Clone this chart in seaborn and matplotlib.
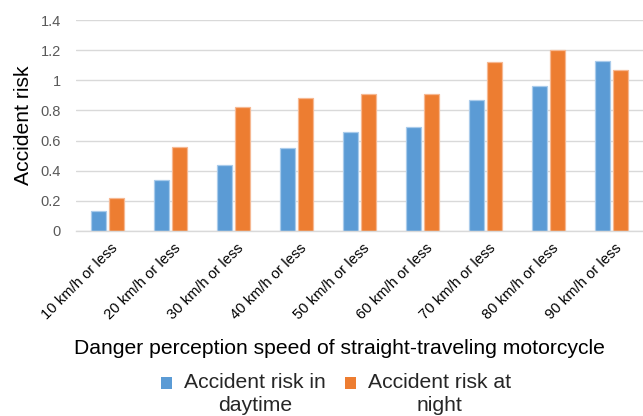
import matplotlib
matplotlib.use("Agg")
import matplotlib.pyplot as plt
import matplotlib.transforms as mtransforms
from matplotlib.patches import Patch, Rectangle
from matplotlib.legend_handler import HandlerPatch
import pandas as pd
import seaborn as sns

# Accident risk by danger perception speed
categories = ["10 km/h or less", "20 km/h or less", "30 km/h or less",
              "40 km/h or less", "50 km/h or less", "60 km/h or less",
              "70 km/h or less", "80 km/h or less", "90 km/h or less"]
risk_daytime = [0.13, 0.34, 0.44, 0.55, 0.66, 0.69, 0.87, 0.96, 1.13]
risk_night = [0.22, 0.56, 0.82, 0.88, 0.91, 0.91, 1.12, 1.20, 1.07]
series_names = ["Accident risk in\ndaytime", "Accident risk at\nnight"]
y_ticks = [0, 0.2, 0.4, 0.6, 0.8, 1.0, 1.2, 1.4]
y_tick_labels = ["0", "0.2", "0.4", "0.6", "0.8", "1", "1.2", "1.4"]

colors = ["#5B9BD5", "#ED7D31"]
edge_colors = ["#A9CBEB", "#F6B892"]

LABEL_SIZE = 15.2
LEGEND_LINESPACING = 1.3

df = pd.DataFrame({
    "speed": categories * 2,
    "risk": risk_daytime + risk_night,
    "series": [series_names[0]] * len(categories) + [series_names[1]] * len(categories),
})

sns.set_theme(style="white")
plt.rcParams["font.family"] = ["Liberation Sans", "DejaVu Sans"]

fig = plt.figure(figsize=(6.43, 4.16), dpi=100)
ax = fig.add_axes([76 / 643, 1 - 231 / 416, 567 / 643, 211 / 416])

sns.barplot(data=df, x="speed", y="risk", hue="series", order=categories,
            hue_order=series_names, palette=colors, saturation=1,
            width=0.575, gap=0.22, linewidth=0.9, legend=False, ax=ax)

# lighter outlines around each bar
for container, ec in zip(ax.containers, edge_colors):
    for bar in container:
        bar.set_edgecolor(ec)

ax.set_ylim(0, 1.4)
ax.set_xlim(-0.5, len(categories) - 0.5)
ax.set_yticks(y_ticks)
ax.set_yticklabels(y_tick_labels, color="#595959", fontsize=10.5)
ax.tick_params(axis="y", length=0, pad=11)
ax.tick_params(axis="x", length=0, pad=7)
ax.yaxis.grid(True, color="#D9D9D9", linewidth=1.0)
ax.set_axisbelow(True)
for s in ["top", "right", "left"]:
    ax.spines[s].set_visible(False)
ax.spines["bottom"].set_color("#D9D9D9")
ax.spines["bottom"].set_linewidth(1.0)

offset = mtransforms.ScaledTranslation(3 / 100, 0, fig.dpi_scale_trans)
for lbl in ax.get_xticklabels():
    lbl.set_rotation(45)
    lbl.set_ha("right")
    lbl.set_va("top")
    lbl.set_rotation_mode("anchor")
    lbl.set_fontsize(10.6)
    lbl.set_color("black")
    lbl.set_transform(lbl.get_transform() + offset)

ax.set_ylabel("Accident risk", fontsize=LABEL_SIZE, color="black")
ax.yaxis.set_label_coords(-0.076, 0.5)
ax.set_xlabel("Danger perception speed of straight-traveling motorcycle",
              fontsize=LABEL_SIZE, color="black")
ax.xaxis.set_label_coords(0.4638, -0.51)


class FirstLineSquare(HandlerPatch):
    """Square legend key aligned with the first line of a two-line label."""

    def create_artists(self, legend, orig_handle, xdescent, ydescent,
                       width, height, fontsize, trans):
        size = 0.55 * fontsize
        lift = 0.5 * LEGEND_LINESPACING * 0.81 * fontsize
        sq = Rectangle((-xdescent + (width - size) / 2,
                        -ydescent + (height - size) / 2 + lift),
                       size, size, facecolor=orig_handle.get_facecolor(),
                       edgecolor="none", transform=trans)
        return [sq]


handles = [Patch(facecolor=c, edgecolor="none") for c in colors]
leg = fig.legend(handles, series_names, loc="upper center",
                 bbox_to_anchor=(336 / 643, 1 - 362 / 416), ncol=2,
                 frameon=False, fontsize=LABEL_SIZE, borderpad=0,
                 handlelength=0.55, handleheight=0.55, handletextpad=0.55,
                 columnspacing=0.9,
                 handler_map={Patch: FirstLineSquare()})
for t in leg.get_texts():
    t.set_multialignment("center")
    t.set_linespacing(LEGEND_LINESPACING)

fig.savefig("out.png", dpi=100)
